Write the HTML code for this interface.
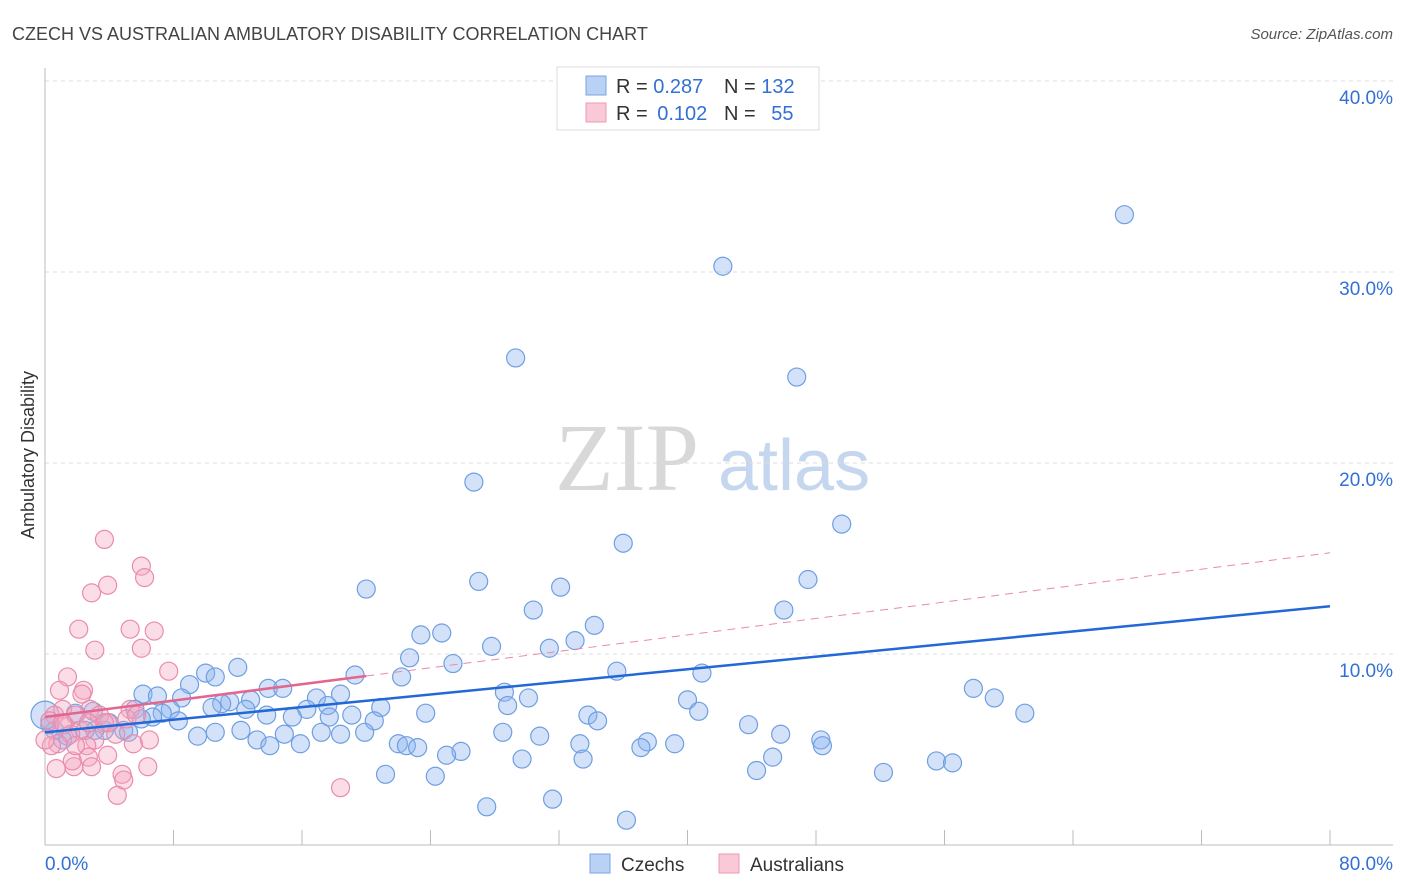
<!DOCTYPE html>
<html><head><meta charset="utf-8">
<style>
body{margin:0;background:#fff;font-family:"Liberation Sans",sans-serif;}
svg{display:block}
</style></head>
<body>
<svg id="chart" width="1406" height="892" xmlns="http://www.w3.org/2000/svg" font-family="Liberation Sans, sans-serif">
<text x="12" y="40" font-size="18" fill="#444">CZECH VS AUSTRALIAN AMBULATORY DISABILITY CORRELATION CHART</text>
<text x="1393" y="39" font-size="15" fill="#555" font-style="italic" text-anchor="end">Source: ZipAtlas.com</text>
<text transform="translate(34,455) rotate(-90)" font-size="18" fill="#333" text-anchor="middle">Ambulatory Disability</text>
<g>
<text x="555" y="490" font-family="Liberation Serif, serif" font-size="96" fill="#d8d8d8">ZIP</text>
<text x="718" y="490" font-size="72" fill="#c5d6ef">atlas</text>
</g>
<g id="grid"></g>
<g id="axes"></g>
<g id="pts"></g>
<g id="lines"></g>
<g>
<rect x="557" y="67" width="262" height="63" fill="#fff" stroke="#ddd"/>
<rect x="586" y="76" width="20" height="19" fill="#b9d1f5" stroke="#7aa4e4"/>
<rect x="586" y="103" width="20" height="19" fill="#f9c9d7" stroke="#ec9ab4"/>
<text x="616" y="93" font-size="20" fill="#333">R = <tspan fill="#3370d4">0.287</tspan></text>
<text x="724" y="93" font-size="20" fill="#333">N = <tspan fill="#3370d4">132</tspan></text>
<text x="616" y="120" font-size="20" fill="#333">R = <tspan fill="#3370d4" dx="4">0.102</tspan></text>
<text x="724" y="120" font-size="20" fill="#333">N = <tspan fill="#3370d4" dx="10">55</tspan></text>
</g>
<g>
<rect x="590" y="854" width="20" height="19" fill="#b9d1f5" stroke="#7aa4e4"/>
<text x="621" y="871" font-size="19" fill="#333">Czechs</text>
<rect x="719" y="854" width="20" height="19" fill="#f9c9d7" stroke="#ec9ab4"/>
<text x="750" y="871" font-size="19" fill="#333">Australians</text>
</g>
</svg>
<script>
const yTicks=[10,20,30,40];
const yTickLabels=["10.0%","20.0%","30.0%","40.0%"];
const xTickCount=10;
const czechX=[67.2,42.2,29.3,46.8,26.7,49.6,36.0,47.5,27.0,20.0,32.1,30.4,46.0,34.2,23.4,24.7,33.0,27.8,31.4,22.7,25.4,35.6,40.9,12.0,10.0,10.6,19.3,22.2,9.0,13.9,14.8,57.8,59.1,61.0,6.1,7.0,8.5,11.5,12.8,16.9,18.4,28.6,30.1,28.8,40.0,40.7,17.6,20.9,23.7,11.0,7.8,7.3,6.7,10.4,12.5,16.3,15.4,13.8,17.7,19.1,20.5,33.8,34.4,8.3,5.6,43.8,45.8,48.3,48.4,28.5,30.8,33.3,37.5,37.1,39.2,19.9,22.0,22.5,23.2,25.9,25.0,33.5,29.7,45.3,44.3,52.2,55.5,56.5,21.2,24.3,27.5,31.6,36.2,9.5,12.2,13.2,14.0,15.9,14.9,17.2,18.4,3.7,4.9,4.0,3.1,2.5,1.4,1.1,0.6,0.3,1.9,3.0,5.2,10.6,6.0,0.0];
const czechY=[33.0,30.3,25.5,24.5,19.0,16.8,15.8,13.9,13.8,13.4,13.5,12.3,12.3,11.5,11.0,11.1,10.7,10.4,10.3,9.8,9.5,9.1,9.0,9.3,9.0,8.8,8.9,8.8,8.4,8.2,8.2,8.2,7.7,6.9,7.9,7.8,7.7,7.5,7.6,7.7,7.9,8.0,7.7,7.3,7.6,7.0,7.3,7.2,6.9,7.4,7.1,6.9,6.7,7.2,7.1,7.1,6.7,6.8,6.7,6.8,6.5,6.8,6.5,6.5,7.1,6.3,5.8,5.5,5.2,5.9,5.7,5.3,5.4,5.1,5.3,5.9,5.3,5.2,5.1,4.9,4.7,4.5,4.5,4.6,3.9,3.8,4.4,4.3,3.7,3.6,2.0,2.4,1.3,5.7,6.0,5.5,5.2,5.3,5.8,5.9,5.8,6.0,6.0,6.4,6.0,6.0,5.7,5.5,6.0,6.3,6.9,7.0,5.9,5.9,6.6,6.8];
const ausX=[3.7,6.0,6.2,3.9,2.9,2.1,5.3,6.8,3.1,6.0,1.4,7.7,2.4,2.3,0.9,1.1,2.8,1.9,3.4,3.9,0.6,0.3,1.2,2.2,1.6,3.1,0.8,2.6,0.4,5.3,5.1,5.7,6.5,5.5,3.9,2.7,1.8,1.7,2.9,0.7,4.8,4.9,6.4,4.5,18.4,3.7,1.1,2.7,1.9,4.4,0.0];
const ausY=[16.0,14.6,14.0,13.6,13.2,11.3,11.3,11.2,10.2,10.3,8.8,9.1,8.1,7.9,8.1,7.1,7.1,6.8,6.8,6.4,6.8,6.5,6.3,6.0,5.8,5.5,5.3,5.2,5.2,7.1,6.6,6.8,5.5,5.3,4.7,4.6,4.1,4.4,4.1,4.0,3.7,3.4,4.1,2.6,3.0,6.4,6.4,6.4,5.2,5.8,5.5];
const czechTrend=[5.9,12.5];
const ausTrend=[6.7,15.3];
const ausSolidEnd=20;
const X0=45,X1=1330,Y0=845,PY=19.1;
const sx=v=>X0+v/80*(X1-X0);
const sy=v=>Y0-v*PY;
const NS="http://www.w3.org/2000/svg";
function mk(tag,parent,attrs){const e=document.createElementNS(NS,tag);for(const k in attrs)e.setAttribute(k,attrs[k]);parent.appendChild(e);return e;}
const grid=document.getElementById('grid'),axes=document.getElementById('axes'),pts=document.getElementById('pts'),lines=document.getElementById('lines');
yTicks.forEach((t,i)=>{
 const l=mk('line',grid,{x1:X0,x2:1393,y1:sy(t),y2:sy(t),stroke:'#ddd','stroke-dasharray':'4,4'});
 
 
 const tx=mk('text',grid,{x:1393,y:sy(t)+23,'font-size':19,fill:'#3370d4','text-anchor':'end'});
 tx.textContent=yTickLabels[i];
 
 
});
const ya=mk('line',axes,{x1:X0,x2:X0,y1:68,y2:Y0,stroke:'#bbb'});


const xa=mk('line',axes,{x1:X0,x2:1393,y1:Y0,y2:Y0,stroke:'#bbb'});


for(let k=0;k<=xTickCount;k++){const x=sx(k*8);if(x>1395)break;
 const t=mk('line',axes,{x1:x,x2:x,y1:830,y2:Y0,stroke:'#bbb'});
 
 }
const xl0=mk('text',axes,{x:45,y:870,'font-size':19,fill:'#3370d4'});xl0.textContent='0.0%';


const xl1=mk('text',axes,{x:1393,y:870,'font-size':19,fill:'#3370d4','text-anchor':'end'});xl1.textContent='80.0%';


czechX.forEach((v,i)=>{
 const c=mk('circle',pts,{cx:sx(v),cy:sy(czechY[i]),r:(i==czechX.length-1?14:9),fill:'rgba(140,180,238,0.38)',stroke:'#6e9fe2','stroke-width':1.2});
 
 
});
ausX.forEach((v,i)=>{
 const c=mk('circle',pts,{cx:sx(v),cy:sy(ausY[i]),r:9,fill:'rgba(245,165,192,0.38)',stroke:'#ea8bab','stroke-width':1.2});
 
 
});
const ct=mk('line',lines,{x1:sx(0),y1:sy(czechTrend[0]),x2:sx(80),y2:sy(czechTrend[1]),stroke:'#2368d6','stroke-width':2.5});


const ay=v=>ausTrend[0]+(ausTrend[1]-ausTrend[0])*v/80;
const at=mk('line',lines,{x1:sx(0),y1:sy(ay(0)),x2:sx(ausSolidEnd),y2:sy(ay(ausSolidEnd)),stroke:'#e3668f','stroke-width':2.5});


const ad=mk('line',lines,{x1:sx(ausSolidEnd),y1:sy(ay(ausSolidEnd)),x2:sx(80),y2:sy(ay(80)),stroke:'#e88aa9','stroke-width':1,'stroke-dasharray':'8,6'});


</script>
</body></html>
